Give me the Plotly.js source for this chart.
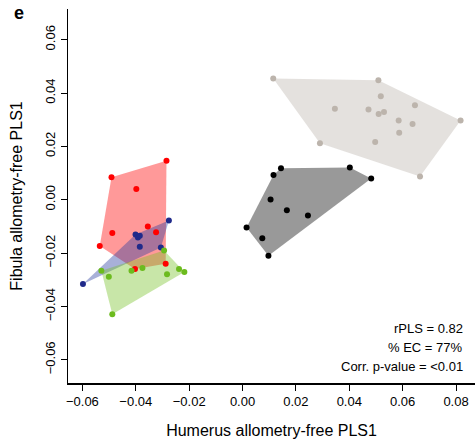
<!DOCTYPE html>
<html><head><meta charset="utf-8">
<script src="https://cdn.plot.ly/plotly-3.0.1.min.js"></script>
<style>html,body{margin:0;padding:0;background:#fff}#chart{width:475px;height:443px}</style>
</head><body><div id="chart"></div>
<script>
// Group data (Humerus PLS1 = x, Fibula PLS1 = y)
const grayX  = [0.0115, 0.0509, 0.0518, 0.0346, 0.0472, 0.0510, 0.0530, 0.0646, 0.0585, 0.0637, 0.0587, 0.0497, 0.0290, 0.0817, 0.0665];
const grayY  = [0.0454, 0.0448, 0.0388, 0.0341, 0.0338, 0.0321, 0.0329, 0.0354, 0.0297, 0.0284, 0.0251, 0.0216, 0.0212, 0.0297, 0.0087];
const blackX = [0.0144, 0.0116, 0.0402, 0.0482, 0.0105, 0.0166, 0.0245, 0.0015, 0.0074, 0.0097];
const blackY = [0.0118, 0.0093, 0.0121, 0.0080, 0.0001, -0.0039, -0.0059, -0.0104, -0.0144, -0.0210];
const redX   = [-0.0491, -0.0285, -0.0398, -0.0355, -0.0488, -0.0324, -0.0535, -0.0403, -0.0288];
const redY   = [0.0084, 0.0146, 0.0040, -0.0100, -0.0125, -0.0122, -0.0173, -0.0260, -0.0240];
const blueX  = [-0.0276, -0.0401, -0.0392, -0.0385, -0.0385, -0.0306, -0.0598];
const blueY  = [-0.0078, -0.0130, -0.0142, -0.0135, -0.0176, -0.0179, -0.0316];
const greenX = [-0.0294, -0.0529, -0.0501, -0.0416, -0.0375, -0.0283, -0.0238, -0.0218, -0.0488];
const greenY = [-0.0190, -0.0266, -0.0289, -0.0266, -0.0256, -0.0279, -0.0260, -0.0271, -0.0429];

const xTicks = [-0.06, -0.04, -0.02, 0.00, 0.02, 0.04, 0.06, 0.08];
const yTicks = [-0.06, -0.04, -0.02, 0.00, 0.02, 0.04, 0.06];
const statLines = ["rPLS = 0.82", "% EC = 77%", "Corr. p-value = <0.01"];

function hull(xs, ys) {
  const p = xs.map((x, i) => [x, ys[i]]).sort((a, b) => a[0] - b[0] || a[1] - b[1]);
  const cross = (o, a, b) => (a[0]-o[0])*(b[1]-o[1]) - (a[1]-o[1])*(b[0]-o[0]);
  const lo = [], up = [];
  for (const q of p) { while (lo.length >= 2 && cross(lo[lo.length-2], lo[lo.length-1], q) <= 0) lo.pop(); lo.push(q); }
  for (let i = p.length - 1; i >= 0; i--) { const q = p[i]; while (up.length >= 2 && cross(up[up.length-2], up[up.length-1], q) <= 0) up.pop(); up.push(q); }
  const h = lo.slice(0, -1).concat(up.slice(0, -1));
  h.push(h[0]);
  return h;
}

const groups = [
  {x: grayX,  y: grayY,  pt: '#bcb4ac', fill: 'rgba(188,180,172,0.4)'},
  {x: blackX, y: blackY, pt: '#000000', fill: 'rgba(0,0,0,0.4)'},
  {x: redX,   y: redY,   pt: '#ff0000', fill: 'rgba(255,0,0,0.4)'},
  {x: blueX,  y: blueY,  pt: '#1f2a8a', fill: 'rgba(37,57,157,0.4)'},
  {x: greenX, y: greenY, pt: '#6cbb1e', fill: 'rgba(117,192,37,0.4)'}
];

const traces = [];
groups.forEach(g => {
  const h = hull(g.x, g.y);
  traces.push({type: 'scatter', mode: 'lines', x: h.map(q => q[0]), y: h.map(q => q[1]),
    fill: 'toself', fillcolor: g.fill, line: {width: 0}, hoverinfo: 'skip', showlegend: false});
});
groups.forEach(g => {
  traces.push({type: 'scatter', mode: 'markers', x: g.x, y: g.y,
    marker: {color: g.pt, size: 6}, showlegend: false});
});

const tickFont = {family: 'Liberation Sans, Arial, sans-serif', size: 13, color: '#000'};
const titleFont = {family: 'Liberation Sans, Arial, sans-serif', size: 16, color: '#000'};

const annotations = statLines.map((t, i) => ({
  xref: 'paper', yref: 'paper', x: 0.975, y: 0.147 - i * 0.051,
  xanchor: 'right', yanchor: 'middle', showarrow: false, text: t,
  font: {family: 'Liberation Sans, Arial, sans-serif', size: 13, color: '#000'}
}));
annotations.push({xref: 'paper', yref: 'paper', x: -0.137, y: 0.989, xanchor: 'left', yanchor: 'middle',
  showarrow: false, text: '<b>e</b>', font: {family: 'Liberation Sans, Arial, sans-serif', size: 18, color: '#000'}});

const layout = {
  width: 475, height: 443,
  margin: {l: 68, r: 0, t: 9, b: 60},
  paper_bgcolor: '#fff', plot_bgcolor: '#fff',
  showlegend: false,
  xaxis: {range: [-0.0654, 0.0871], tickvals: xTicks, ticktext: xTicks.map(v => v.toFixed(2).replace('-', '\u2212')),
    showgrid: false, zeroline: false, showline: true, linecolor: '#000', linewidth: 1.5, mirror: false,
    ticks: 'outside', ticklen: 6, tickwidth: 1, tickcolor: '#000', tickfont: tickFont,
    title: {text: 'Humerus allometry-free PLS1', font: titleFont, standoff: 16}, automargin: false},
  yaxis: {range: [-0.0687, 0.0715], tickvals: yTicks, ticktext: yTicks.map(v => v.toFixed(2).replace('-', '\u2212')),
    tickangle: -90,
    showgrid: false, zeroline: false, showline: true, linecolor: '#000', linewidth: 1.5, mirror: false,
    ticks: 'outside', ticklen: 6, tickwidth: 1, tickcolor: '#000', tickfont: tickFont,
    title: {text: 'Fibula allometry-free PLS1', font: titleFont, standoff: 16}, automargin: false},
  annotations: annotations
};

Plotly.newPlot('chart', traces, layout, {displayModeBar: false, staticPlot: true});
</script></body></html>
